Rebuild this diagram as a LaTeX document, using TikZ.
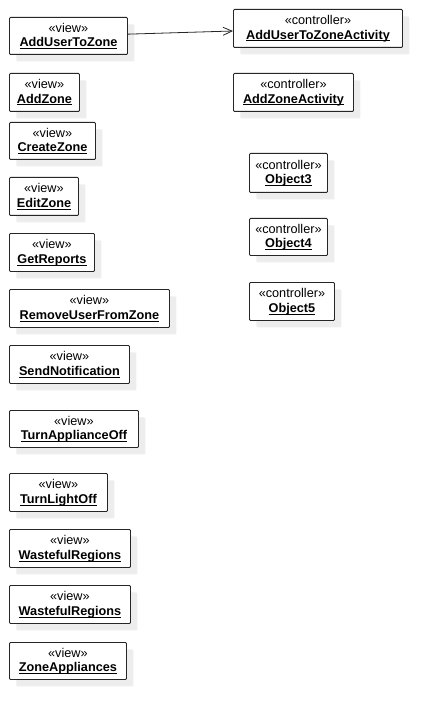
\documentclass[tikz,border=0pt]{standalone}
\usepackage{fontspec}
\setmainfont{Liberation Sans}
\usetikzlibrary{arrows.meta,shadows}

\newcommand{\stereo}[2]{«#1»\\\underline{\smash{\textbf{#2}}\vphantom{A}}}

\tikzset{
    umlbox/.style={draw=black!85, line width=0.9pt, rounded corners=1pt,
        fill=white, align=center, anchor=north west, inner xsep=0pt,
        font=\fontsize{12.7}{14.5}\selectfont,
        drop shadow={shadow xshift=7pt, shadow yshift=-7pt, fill=black!7, opacity=1}},
    usearrow/.style={draw=black!85, line width=0.8pt, -{Straight Barb[length=9pt,width=8pt]}}
}

\begin{document}
\begin{tikzpicture}[x=1pt, y=-1pt]
    \useasboundingbox (0,0) rectangle (441,719);
    % views
    \node[umlbox, minimum width=118pt, minimum height=37pt] (addusertozone) at (9,17) {\stereo{view}{AddUserToZone}};
    \node[umlbox, minimum width=70pt, minimum height=38pt] (addzone) at (9,73) {\stereo{view}{AddZone}};
    \node[umlbox, minimum width=86pt, minimum height=37pt] (createzone) at (9,122) {\stereo{view}{CreateZone}};
    \node[umlbox, minimum width=69pt, minimum height=38pt] (editzone) at (9,177) {\stereo{view}{EditZone}};
    \node[umlbox, minimum width=85pt, minimum height=38pt] (getreports) at (9,233) {\stereo{view}{GetReports}};
    \node[umlbox, minimum width=160pt, minimum height=38pt] (removeuser) at (9,289) {\stereo{view}{RemoveUserFromZone}};
    \node[umlbox, minimum width=120pt, minimum height=38pt] (sendnotification) at (9,345) {\stereo{view}{SendNotification}};
    \node[umlbox, minimum width=129pt, minimum height=37pt] (turnappliance) at (9,410) {\stereo{view}{TurnApplianceOff}};
    \node[umlbox, minimum width=98pt, minimum height=38pt] (turnlight) at (9,473) {\stereo{view}{TurnLightOff}};
    \node[umlbox, minimum width=121pt, minimum height=38pt] (wasteful1) at (9,529) {\stereo{view}{WastefulRegions}};
    \node[umlbox, minimum width=121pt, minimum height=38pt] (wasteful2) at (9,585) {\stereo{view}{WastefulRegions}};
    \node[umlbox, minimum width=117pt, minimum height=37pt] (zoneappliances) at (9,642) {\stereo{view}{ZoneAppliances}};
    % controllers
    \node[umlbox, minimum width=169pt, minimum height=38pt] (addusertozoneact) at (233,9) {\stereo{controller}{AddUserToZoneActivity}};
    \node[umlbox, minimum width=120pt, minimum height=38pt] (addzoneact) at (233,73) {\stereo{controller}{AddZoneActivity}};
    \node[umlbox, minimum width=78pt, minimum height=39pt] (object3) at (249,153) {\stereo{controller}{Object3}};
    \node[umlbox, minimum width=78pt, minimum height=37pt] (object4) at (249,218) {\stereo{controller}{Object4}};
    \node[umlbox, minimum width=85pt, minimum height=38pt] (object5) at (249,282) {\stereo{controller}{Object5}};

    \draw[usearrow] (addusertozone) -- (addusertozoneact);
\end{tikzpicture}
\end{document}
